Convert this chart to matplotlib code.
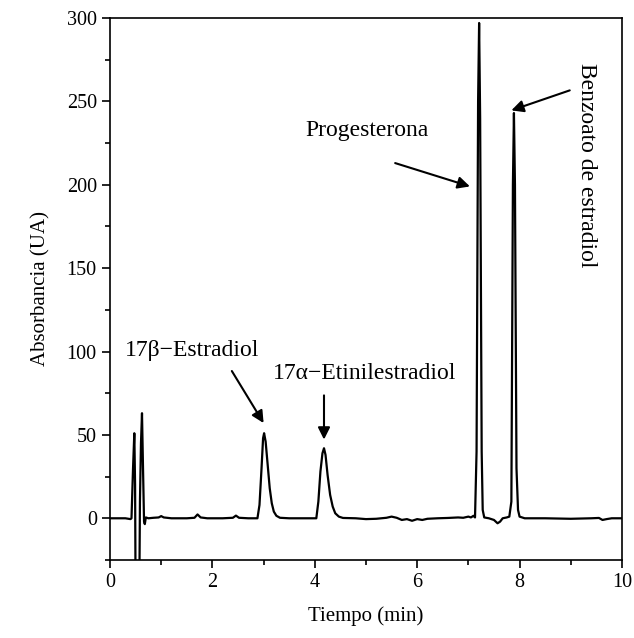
import matplotlib
matplotlib.use('Agg')
import matplotlib.pyplot as plt
from matplotlib.ticker import MultipleLocator

plt.rcParams['font.family'] = ['Liberation Serif', 'DejaVu Serif']
plt.rcParams['mathtext.fontset'] = 'stix'

# chromatogram trace (time in min, absorbance in UA)
tiempo = [0.0, 0.3, 0.40, 0.42, 0.45, 0.475, 0.49, 0.505, 0.565, 0.585, 0.605,
          0.625, 0.645, 0.665, 0.68, 0.70, 0.75, 0.85, 0.95, 1.0, 1.05, 1.2,
          1.5, 1.65, 1.71, 1.77, 1.9, 2.2, 2.40, 2.46, 2.52, 2.7, 2.88, 2.92,
          2.96, 2.99, 3.01, 3.04, 3.08, 3.12, 3.16, 3.20, 3.25, 3.32, 3.5, 3.8,
          4.03, 4.07, 4.11, 4.15, 4.18, 4.21, 4.25, 4.30, 4.35, 4.40, 4.47,
          4.55, 4.8, 5.0, 5.2, 5.4, 5.5, 5.6, 5.7, 5.8, 5.9, 6.0, 6.1, 6.2,
          6.4, 6.6, 6.8, 6.9, 7.0, 7.05, 7.1, 7.13, 7.16, 7.19, 7.21, 7.23,
          7.26, 7.28, 7.31, 7.4, 7.5, 7.57, 7.62, 7.67, 7.75, 7.80, 7.84, 7.87,
          7.89, 7.91, 7.94, 7.97, 8.0, 8.1, 8.5, 9.0, 9.4, 9.55, 9.62, 9.7,
          9.8, 10.0]
absorbancia = [0.0, 0.0, -0.5, 0.0, 30, 51, 20, -80, -80, 10, 45,
               63, 30, -2, -3.5, 0.5, 0.0, 0.3, 0.5, 1.3, 0.5, 0.0,
               0.0, 0.3, 2.3, 0.5, 0.0, 0.0, 0.3, 1.6, 0.3, 0.0, 0.0, 8,
               30, 48, 51, 46, 32, 18, 9, 4, 1.5, 0.3, 0.0, 0.0,
               0.0, 10, 28, 39, 42, 38, 26, 14, 7, 3, 1,
               0.2, 0.0, -0.5, -0.3, 0.3, 1, 0.3, -1, -0.5, -1.5, -0.5, -1, -0.3,
               0.0, 0.2, 0.5, 0.3, 1, 0.5, 1.5, 0.5, 40, 250, 297, 240,
               40, 5, 0.5, 0.0, -1, -3, -2, 0.0, 0.5, 1, 10, 200,
               243, 200, 30, 5, 1, 0.0, 0.0, -0.3, 0.0, 0.2, -1, -0.5,
               0.0, 0.0]

# peak labels: text, text position, arrow tail, arrow head
etiquetas = ['17\u03b2\u2212Estradiol', '17\u03b1\u2212Etinilestradiol', 'Progesterona']
pos_texto = [(0.29, 100.7), (3.18, 86.9), (3.81, 232.6)]
cola = [(2.38, 88.3), (4.18, 73.7), (5.57, 213.0)]
punta = [(3.00, 57.1), (4.18, 47.2), (7.03, 199.0)]

fig = plt.figure(figsize=(6.34, 6.38), dpi=100)
ax = fig.add_axes([0.1735, 0.1223, 0.8075, 0.8495])

ax.plot(tiempo, absorbancia, color='black', lw=1.6)

ax.set_xlim(0, 10)
ax.set_ylim(-25, 300)
ax.xaxis.set_major_locator(MultipleLocator(2))
ax.xaxis.set_minor_locator(MultipleLocator(1))
ax.yaxis.set_major_locator(MultipleLocator(50))
ax.yaxis.set_minor_locator(MultipleLocator(25))
ax.tick_params(which='both', direction='out', width=1.2, labelsize=14.5,
               top=False, right=False)
ax.tick_params(which='major', length=6)
ax.tick_params(which='minor', length=3.5)
for s in ax.spines.values():
    s.set_linewidth(1.2)

ax.set_xlabel('Tiempo (min)', fontsize=15, labelpad=10)
ax.set_ylabel('Absorbancia (UA)', fontsize=15, labelpad=12)

for txt, p in zip(etiquetas, pos_texto):
    ax.text(p[0], p[1], txt, fontsize=17, ha='left', va='center')
for c, h in zip(cola, punta):
    ax.annotate('', xy=h, xytext=c,
                arrowprops=dict(arrowstyle='-|>', color='black', lw=1.5,
                                mutation_scale=18, shrinkA=0, shrinkB=0))

ax.text(9.31, 211.6, 'Benzoato de estradiol', fontsize=17, rotation=-90,
        ha='center', va='center')
ax.annotate('', xy=(7.84, 244.6), xytext=(8.98, 256.6),
            arrowprops=dict(arrowstyle='-|>', color='black', lw=1.5,
                            mutation_scale=18, shrinkA=0, shrinkB=0))

fig.savefig('out.png', dpi=100)
